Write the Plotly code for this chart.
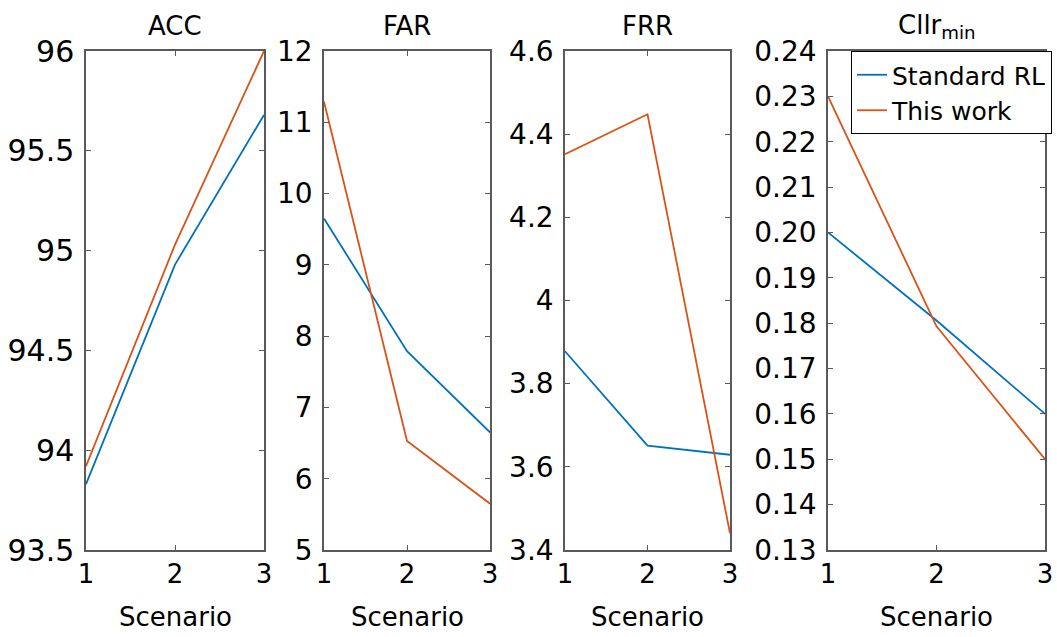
import plotly.graph_objects as go

# Scenario index on the x axis
scenarios = [1, 2, 3]

# Metric values per scenario
acc_standard = [93.83, 94.93, 95.68]
acc_this_work = [93.92, 95.03, 96.0]
far_standard = [9.65, 7.79, 6.65]
far_this_work = [11.29, 6.53, 5.65]
frr_standard = [3.878, 3.651, 3.629]
frr_this_work = [4.352, 4.448, 3.44]
cllr_standard = [0.200, 0.1806, 0.160]
cllr_this_work = [0.230, 0.1793, 0.150]

series_names = ["Standard RL", "This work"]
panel_titles = ["ACC", "FAR", "FRR", "Cllr<sub>min</sub>"]

# Tick values / labels for each panel's y axis
acc_ticks = [93.5, 94, 94.5, 95, 95.5, 96]
acc_ticktext = ["93.5", "94", "94.5", "95", "95.5", "96"]
far_ticks = [5, 6, 7, 8, 9, 10, 11, 12]
far_ticktext = ["5", "6", "7", "8", "9", "10", "11", "12"]
frr_ticks = [3.4, 3.6, 3.8, 4.0, 4.2, 4.4, 4.6]
frr_ticktext = ["3.4", "3.6", "3.8", "4", "4.2", "4.4", "4.6"]
cllr_ticks = [0.13, 0.14, 0.15, 0.16, 0.17, 0.18, 0.19, 0.20, 0.21, 0.22, 0.23, 0.24]
cllr_ticktext = ["0.13", "0.14", "0.15", "0.16", "0.17", "0.18", "0.19",
                 "0.20", "0.21", "0.22", "0.23", "0.24"]
x_ticktext = ["1", "2", "3"]

BLUE = "#0072BD"
ORANGE = "#D95319"
FONT = "DejaVu Sans"
W, H = 1057, 637

panels = [
    dict(std=acc_standard, new=acc_this_work, yr=[93.5, 96], tv=acc_ticks, tt=acc_ticktext,
         x0=86, x1=264, fs=30),
    dict(std=far_standard, new=far_this_work, yr=[5, 12], tv=far_ticks, tt=far_ticktext,
         x0=324, x1=490, fs=28),
    dict(std=frr_standard, new=frr_this_work, yr=[3.4, 4.6], tv=frr_ticks, tt=frr_ticktext,
         x0=565, x1=730, fs=28),
    dict(std=cllr_standard, new=cllr_this_work, yr=[0.13, 0.24], tv=cllr_ticks, tt=cllr_ticktext,
         x0=828, x1=1045, fs=28),
]

y_top, y_bot = 51, 550
ydom = [1 - y_bot / H, 1 - y_top / H]

fig = go.Figure()
annotations = []
layout = {}

for i, p in enumerate(panels):
    n = "" if i == 0 else str(i + 1)
    xa, ya = "x" + n, "y" + n
    fig.add_trace(go.Scatter(x=scenarios, y=p["std"], mode="lines", name=series_names[0],
                             line=dict(color=BLUE, width=1.8), xaxis=xa, yaxis=ya,
                             showlegend=(i == 3)))
    fig.add_trace(go.Scatter(x=scenarios, y=p["new"], mode="lines", name=series_names[1],
                             line=dict(color=ORANGE, width=1.8), xaxis=xa, yaxis=ya,
                             showlegend=(i == 3)))
    xdom = [p["x0"] / W, p["x1"] / W]
    axis_common = dict(showline=True, linecolor="#5a5a5a", linewidth=1.5, mirror="ticks",
                       ticks="inside", ticklen=5, tickcolor="#5a5a5a", showgrid=False,
                       zeroline=False, fixedrange=True, automargin=False)
    layout["xaxis" + n] = dict(domain=xdom, range=[1, 3], anchor=ya, tickvals=scenarios,
                               ticktext=x_ticktext, tickfont=dict(size=26, color="black"),
                               ticklabelstandoff=0, **axis_common)
    layout["yaxis" + n] = dict(domain=ydom, range=p["yr"], anchor=xa, tickvals=p["tv"],
                               ticktext=p["tt"], tickfont=dict(size=p["fs"], color="black"),
                               ticklabelstandoff=4, **axis_common)
    xc = (xdom[0] + xdom[1]) / 2
    annotations.append(dict(text=panel_titles[i], x=xc, y=1 - (26 if i < 3 else 27) / H,
                            xref="paper", yref="paper", showarrow=False,
                            xanchor="center", yanchor="middle",
                            font=dict(size=26, color="black", family=FONT)))
    annotations.append(dict(text="Scenario", x=xc, y=1 - 617 / H, xref="paper", yref="paper",
                            showarrow=False, xanchor="center", yanchor="middle",
                            font=dict(size=26, color="black", family=FONT)))

fig.update_layout(
    width=W, height=H,
    margin=dict(l=0, r=0, t=0, b=0, autoexpand=False),
    paper_bgcolor="white", plot_bgcolor="white",
    font=dict(family=FONT, color="black"),
    annotations=annotations,
    legend=dict(x=851 / W, y=1 - y_top / H, xanchor="left", yanchor="top",
                bgcolor="white", bordercolor="black", borderwidth=1,
                font=dict(size=25, color="black", family=FONT),
                itemwidth=30, tracegroupgap=0),
    **layout,
)

fig.write_html("out.html")
